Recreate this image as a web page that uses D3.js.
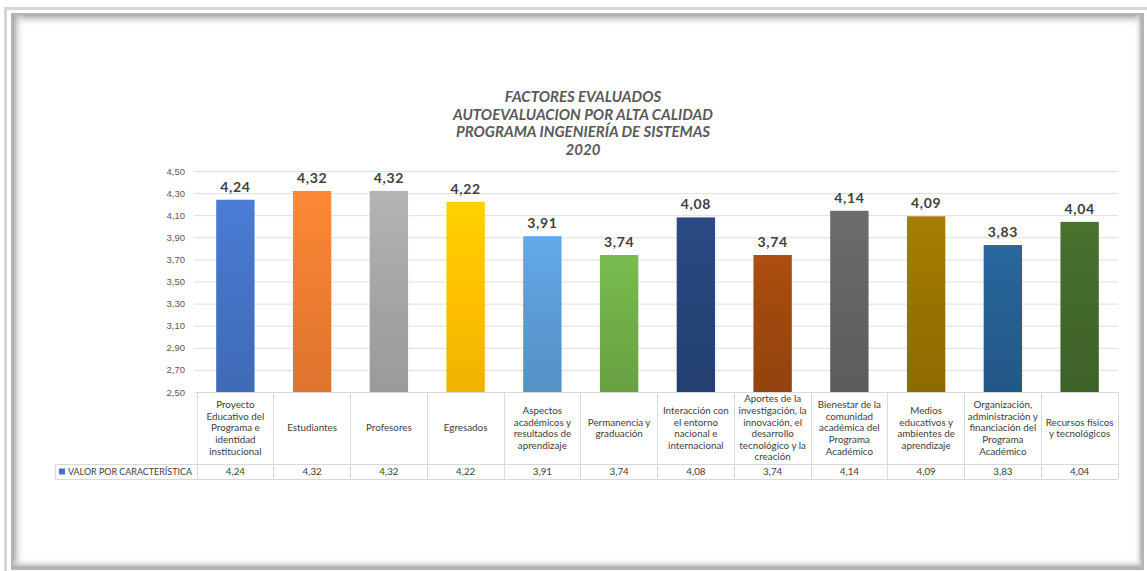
<!DOCTYPE html>
<html>
<head>
<meta charset="utf-8">
<script src="https://cdn.jsdelivr.net/npm/d3@7"></script>
<style>
  body { margin: 0; background: #ffffff; }
  svg { display: block; font-family: 'Lato', 'Open Sans', sans-serif; }
  .title { fill: #595959; font-size: 15px; font-weight: bold; font-style: italic; }
  .tick-label { fill: #595959; font-size: 9.5px; }
  .bar-label { fill: #404040; font-size: 14px; font-weight: bold; letter-spacing: 0.6px; }
  .cell-text { fill: #404040; font-size: 9.8px; }
  .legend-text { fill: #404040; font-size: 9.2px; }
</style>
</head>
<body>
<div id="vis"></div>
<script>
const titleLines = ["FACTORES EVALUADOS", "AUTOEVALUACION POR ALTA CALIDAD", "PROGRAMA INGENIERÍA DE SISTEMAS", "2020"];
const categories = [
  "Proyecto\nEducativo del\nPrograma e\nidentidad\ninstitucional",
  "Estudiantes",
  "Profesores",
  "Egresados",
  "Aspectos\nacadémicos y\nresultados de\naprendizaje",
  "Permanencia y\ngraduación",
  "Interacción con\nel entorno\nnacional e\ninternacional",
  "Aportes de la\ninvestigación, la\ninnovación, el\ndesarrollo\ntecnológico y la\ncreación",
  "Bienestar de la\ncomunidad\nacadémica del\nPrograma\nAcadémico",
  "Medios\neducativos y\nambientes de\naprendizaje",
  "Organización,\nadministración y\nfinanciación del\nPrograma\nAcadémico",
  "Recursos físicos\ny tecnológicos"
];
const values = [4.24, 4.32, 4.32, 4.22, 3.91, 3.74, 4.08, 3.74, 4.14, 4.09, 3.83, 4.04];
const seriesName = "VALOR POR CARACTERÍSTICA";
const yTicks = [2.5, 2.7, 2.9, 3.1, 3.3, 3.5, 3.7, 3.9, 4.1, 4.3, 4.5];
const barColors = ["#4472C4", "#ED7D31", "#A5A5A5", "#FFC000", "#5B9BD5", "#70AD47",
                   "#264478", "#9E480E", "#636363", "#997300", "#255E91", "#43682B"];

const width = 1147, height = 571;
const margin = { top: 171, right: 29, bottom: 179, left: 197 };
const fmt = v => d3.format(".2f")(v).replace(".", ",");

const svg = d3.select("#vis").append("svg")
  .attr("width", width)
  .attr("height", height);

const defs = svg.append("defs");

// frame with a soft inner shadow
svg.append("rect").attr("x", 5.5).attr("y", 8.5).attr("width", 1150).attr("height", 570)
  .attr("fill", "none").attr("stroke", "#d6d6d6").attr("stroke-width", 3);
svg.append("rect").attr("x", 12).attr("y", 14).attr("width", 1131).attr("height", 555)
  .attr("fill", "none").attr("stroke", "#9c9c9c").attr("stroke-width", 1.5);

const shade = (id, x1, y1, x2, y2) => {
  const g = defs.append("linearGradient").attr("id", id)
    .attr("x1", x1).attr("y1", y1).attr("x2", x2).attr("y2", y2);
  g.append("stop").attr("offset", 0).attr("stop-color", "#a8a8a8");
  g.append("stop").attr("offset", 1).attr("stop-color", "#ffffff").attr("stop-opacity", 0);
};
shade("shTop", 0, 0, 0, 1);
shade("shLeft", 0, 0, 1, 0);
shade("shRight", 1, 0, 0, 0);
shade("shBottom", 0, 1, 0, 0);
svg.append("rect").attr("x", 13).attr("y", 15).attr("width", 1129).attr("height", 12).attr("fill", "url(#shTop)");
svg.append("rect").attr("x", 13).attr("y", 15).attr("width", 12).attr("height", 553).attr("fill", "url(#shLeft)");
svg.append("rect").attr("x", 1134).attr("y", 15).attr("width", 8).attr("height", 553).attr("fill", "url(#shRight)");
svg.append("rect").attr("x", 13).attr("y", 558).attr("width", 1129).attr("height", 10).attr("fill", "url(#shBottom)");

// title
svg.append("g").selectAll("text")
  .data(titleLines)
  .join("text")
  .attr("class", "title")
  .attr("x", 583)
  .attr("y", (d, i) => 102 + i * 17.7)
  .attr("text-anchor", "middle")
  .text(d => d);

const x = d3.scaleBand()
  .domain(d3.range(categories.length))
  .range([margin.left, width - margin.right])
  .paddingInner(0);

const y = d3.scaleLinear()
  .domain([2.5, 4.5])
  .range([height - margin.bottom, margin.top]);

// gridlines
const yAxis = g => g
  .attr("transform", `translate(${margin.left - 3},0)`)
  .call(d3.axisLeft(y).tickValues(yTicks).tickFormat(fmt).tickSize(-(width - margin.right - margin.left + 3)).tickPadding(9))
  .call(g => g.select(".domain").remove())
  .call(g => g.selectAll(".tick line").attr("stroke", "#dedede").attr("stroke-width", 1))
  .call(g => g.selectAll(".tick text").attr("class", "tick-label").attr("font-family", null).attr("font-size", null).attr("fill", null));

svg.append("g").call(yAxis);

// bar gradients
barColors.forEach((c, i) => {
  const g = defs.append("linearGradient").attr("id", "bar" + i)
    .attr("x1", 0).attr("y1", 0).attr("x2", 0).attr("y2", 1);
  g.append("stop").attr("offset", 0).attr("stop-color", d3.color(c).brighter(0.25));
  g.append("stop").attr("offset", 0.5).attr("stop-color", c);
  g.append("stop").attr("offset", 1).attr("stop-color", d3.color(c).darker(0.2));
});

const barW = x.bandwidth() * 0.5;

svg.append("g").selectAll("rect")
  .data(values)
  .join("rect")
  .attr("x", (d, i) => x(i) + (x.bandwidth() - barW) / 2)
  .attr("y", d => y(d))
  .attr("width", barW)
  .attr("height", d => y(2.5) - y(d))
  .attr("fill", (d, i) => `url(#bar${i})`);

svg.append("g").selectAll("text")
  .data(values)
  .join("text")
  .attr("class", "bar-label")
  .attr("x", (d, i) => x(i) + x.bandwidth() / 2)
  .attr("y", d => y(d) - 8)
  .attr("text-anchor", "middle")
  .text(fmt);

// data table under the chart
const tableTop = y(2.5);
const rowSplit = 464;
const tableBottom = 479;
const legendLeft = 55;
const lineColor = "#d9d9d9";
const table = svg.append("g").attr("stroke", lineColor).attr("stroke-width", 1).attr("shape-rendering", "crispEdges");

table.append("line").attr("x1", margin.left).attr("x2", width - margin.right).attr("y1", tableTop).attr("y2", tableTop);
table.append("line").attr("x1", legendLeft).attr("x2", width - margin.right).attr("y1", rowSplit).attr("y2", rowSplit);
table.append("line").attr("x1", legendLeft).attr("x2", width - margin.right).attr("y1", tableBottom).attr("y2", tableBottom);
table.append("line").attr("x1", legendLeft).attr("x2", legendLeft).attr("y1", rowSplit).attr("y2", tableBottom);
table.selectAll(".col")
  .data(d3.range(categories.length + 1))
  .join("line")
  .attr("x1", i => i < categories.length ? x(i) : width - margin.right)
  .attr("x2", i => i < categories.length ? x(i) : width - margin.right)
  .attr("y1", tableTop)
  .attr("y2", tableBottom);

const lineH = 11.6;
const headCenter = (tableTop + rowSplit) / 2;

svg.append("g").selectAll("text")
  .data(categories)
  .join("text")
  .attr("class", "cell-text")
  .attr("text-anchor", "middle")
  .each(function (d, i) {
    const lines = d.split("\n");
    const first = headCenter - (lines.length - 1) / 2 * lineH + 3.3;
    d3.select(this).selectAll("tspan")
      .data(lines)
      .join("tspan")
      .attr("x", x(i) + x.bandwidth() / 2)
      .attr("y", (l, k) => first + k * lineH)
      .text(l => l);
  });

svg.append("g").selectAll("text")
  .data(values)
  .join("text")
  .attr("class", "cell-text")
  .attr("x", (d, i) => x(i) + x.bandwidth() / 2)
  .attr("y", (rowSplit + tableBottom) / 2 + 3.3)
  .attr("text-anchor", "middle")
  .text(fmt);

// legend key
svg.append("rect")
  .attr("x", 59).attr("y", 468.5).attr("width", 6).attr("height", 6)
  .attr("fill", barColors[0]);
svg.append("text")
  .attr("class", "legend-text")
  .attr("x", 68)
  .attr("y", (rowSplit + tableBottom) / 2 + 3.3)
  .attr("textLength", 124)
  .attr("lengthAdjust", "spacingAndGlyphs")
  .text(seriesName);
</script>
</body>
</html>
